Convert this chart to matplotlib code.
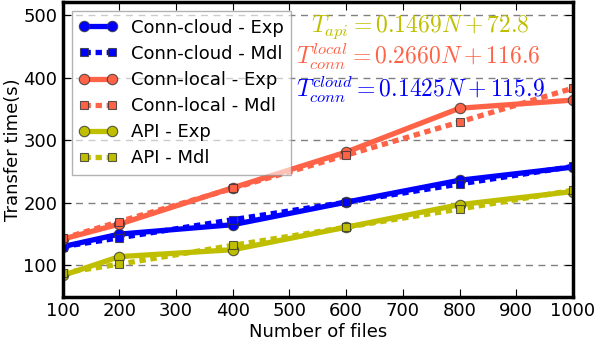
import matplotlib
matplotlib.use('Agg')
import matplotlib.pyplot as plt

# files per run
n_files = [100, 200, 400, 600, 800, 1000]

# transfer times (s)
cloud_exp = [130, 150, 165, 201, 236, 257]
cloud_mdl = [130, 144, 173, 201, 230, 258]
local_exp = [142, 166, 224, 281, 351, 364]
local_mdl = [143, 170, 223, 276, 329, 383]
api_exp = [84, 114, 125, 161, 197, 218]
api_mdl = [88, 102, 132, 161, 190, 220]

eq_api = r'$T_{api} = 0.1469N + 72.8$'
eq_local = r'$T_{conn}^{local} = 0.2660N + 116.6$'
eq_cloud = r'$T_{conn}^{cloud} = 0.1425N + 115.9$'

BLUE = '#0000ff'
RED = '#ff6347'
OLIVE = '#bfbf00'

plt.rcParams['mathtext.fontset'] = 'cm'
plt.rcParams['font.size'] = 13

fig, ax = plt.subplots(figsize=(5.98, 3.45), dpi=100)

series = [
    (cloud_exp, BLUE, 'o', '-', 'Conn-cloud - Exp'),
    (cloud_mdl, BLUE, 's', 'dash', 'Conn-cloud - Mdl'),
    (local_exp, RED, 'o', '-', 'Conn-local - Exp'),
    (local_mdl, RED, 's', 'dash', 'Conn-local - Mdl'),
    (api_exp, OLIVE, 'o', '-', 'API - Exp'),
    (api_mdl, OLIVE, 's', 'dash', 'API - Mdl'),
]
for ys, c, m, ls, lab in series:
    if ls == 'dash':
        ax.plot(n_files, ys, color=c, marker=m, lw=3.8, ms=6, dashes=(1.2, 0.9),
                mec=(0.2, 0.2, 0.2, 0.8), mew=0.8, label=lab)
    else:
        ax.plot(n_files, ys, color=c, marker=m, lw=3.8, ms=7.5, ls='-',
                mec=(0.2, 0.2, 0.2, 0.8), mew=0.8, label=lab)

ax.text(538, 481, eq_api, color=OLIVE, fontsize=17, va='center')
ax.text(512, 433, eq_local, color=RED, fontsize=17, va='center')
ax.text(512, 381, eq_cloud, color=BLUE, fontsize=17, va='center')

ax.set_xlim(100, 1000)
ax.set_ylim(50, 520)
ax.set_xticks(range(100, 1001, 100))
ax.set_yticks([100, 200, 300, 400, 500])
ax.set_xlabel('Number of files', labelpad=2)
ax.set_ylabel('Transfer time(s)', labelpad=1)
ax.yaxis.grid(True, ls='--', color='gray', lw=1, dashes=(5, 4))
ax.tick_params(direction='in', top=True, right=True, length=6, labelsize=13, pad=4)
for s in ax.spines.values():
    s.set_linewidth(2.5)

leg = ax.legend(loc='upper left', numpoints=2, fontsize=13, framealpha=0.6,
                fancybox=False, edgecolor='gray', handlelength=2.1,
                handletextpad=0.8, labelspacing=0.45, borderaxespad=0.5)
leg.get_frame().set_linewidth(1)

plt.subplots_adjust(left=0.105, right=0.958, top=0.993, bottom=0.14)
plt.savefig('out.png', dpi=100)
